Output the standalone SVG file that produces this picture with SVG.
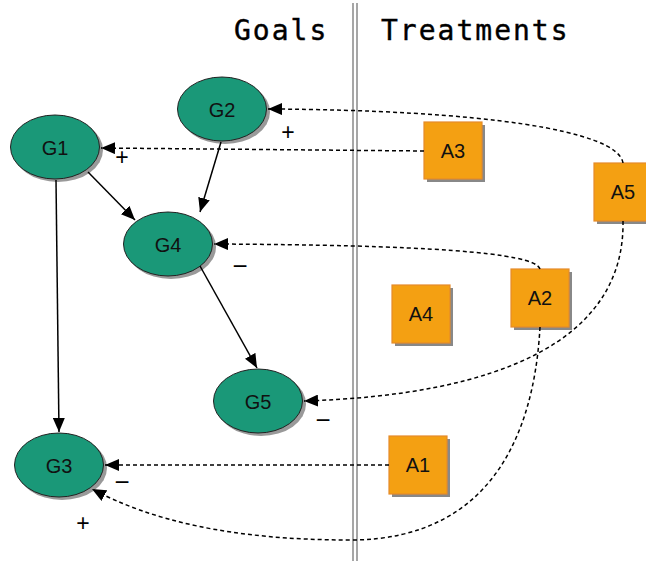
<svg xmlns="http://www.w3.org/2000/svg" width="646" height="563" viewBox="0 0 646 563">
<defs>
<marker id="arr" markerUnits="userSpaceOnUse" markerWidth="15" markerHeight="12" refX="14" refY="6" orient="auto">
<path d="M0,0 L14,6 L0,12 z" fill="#000"/>
</marker>
<style>
.goal ellipse.body{fill:#1a9878;stroke:#222;stroke-width:1}
.goal ellipse.sh{fill:#999;stroke:none}
.act rect.body{fill:#f4a012;stroke:#e58a2a;stroke-width:1.2}
.act rect.sh{fill:#888;stroke:none}
.lbl{font-family:"Liberation Sans",Arial,sans-serif;font-size:20px;fill:#111;text-anchor:middle;dominant-baseline:central}
.sign{font-family:"Liberation Sans",Arial,sans-serif;font-size:23px;fill:#000;text-anchor:middle;dominant-baseline:central}
.minus{font-size:26px}
.title{font-family:"DejaVu Sans Mono",monospace;font-size:28px;fill:#000;letter-spacing:2px;stroke:#000;stroke-width:0.4}
.solid{fill:none;stroke:#000;stroke-width:1.5;marker-end:url(#arr)}
.dash{fill:none;stroke:#000;stroke-width:1.5;stroke-dasharray:4 3;marker-end:url(#arr)}
.sep{stroke:#888;stroke-width:1.5}
</style>
</defs>
<rect width="646" height="563" fill="#fff"/>
<g id="separator">
<line class="sep" x1="353" y1="3" x2="353" y2="561"/>
<line class="sep" x1="357" y1="3" x2="357" y2="561"/>
</g>
<text class="title" x="234" y="40">Goals</text>
<text class="title" x="381" y="40">Treatments</text>

<g id="G1" class="goal"><ellipse class="sh" cx="58" cy="150" rx="45" ry="32"/><ellipse class="body" cx="55" cy="147" rx="44.5" ry="32"/><text class="lbl" x="55" y="148">G1</text></g>
<g id="G2" class="goal"><ellipse class="sh" cx="225" cy="112" rx="45" ry="32"/><ellipse class="body" cx="222" cy="109" rx="44.5" ry="32"/><text class="lbl" x="222" y="110">G2</text></g>
<g id="G4" class="goal"><ellipse class="sh" cx="171" cy="247" rx="45" ry="32"/><ellipse class="body" cx="168" cy="244" rx="44.5" ry="32"/><text class="lbl" x="168" y="245">G4</text></g>
<g id="G5" class="goal"><ellipse class="sh" cx="261" cy="404" rx="45" ry="32"/><ellipse class="body" cx="258" cy="401" rx="44.5" ry="32"/><text class="lbl" x="258" y="402">G5</text></g>
<g id="G3" class="goal"><ellipse class="sh" cx="62" cy="468" rx="45" ry="32"/><ellipse class="body" cx="59" cy="465" rx="44.5" ry="32"/><text class="lbl" x="59" y="466">G3</text></g>

<g id="A3" class="act"><rect class="sh" x="427" y="125" width="58" height="57"/><rect class="body" x="424" y="122" width="58" height="57"/><text class="lbl" x="453" y="151">A3</text></g>
<g id="A5" class="act"><rect class="sh" x="597" y="166" width="58" height="58"/><rect class="body" x="594" y="163" width="58" height="58"/><text class="lbl" x="623" y="192">A5</text></g>
<g id="A2" class="act"><rect class="sh" x="514" y="272" width="58" height="58"/><rect class="body" x="511" y="269" width="58" height="58"/><text class="lbl" x="540" y="298">A2</text></g>
<g id="A4" class="act"><rect class="sh" x="395" y="288" width="58" height="58"/><rect class="body" x="392" y="285" width="58" height="58"/><text class="lbl" x="421" y="314">A4</text></g>
<g id="A1" class="act"><rect class="sh" x="392" y="439" width="58" height="58"/><rect class="body" x="389" y="436" width="58" height="58"/><text class="lbl" x="418" y="465">A1</text></g>

<g id="connectors">
<path class="solid" d="M88,172 L135,220"/>
<path class="solid" d="M221,142 L200,212"/>
<path class="solid" d="M56,180 L59,432"/>
<path class="solid" d="M200,266 L257,368"/>
<path class="dash" d="M424,151 L101,148"/>
<path class="dash" d="M623,163 C618,130 480,110 268,109"/>
<path class="dash" d="M540,269 C535,252 420,245 214,244"/>
<path class="dash" d="M540,327 C535,420 500,540 350,540 C230,540 150,520 92,489"/>
<path class="dash" d="M623,221 C625,340 500,395 304,401"/>
<path class="dash" d="M389,465 L105,465"/>
</g>
<g id="labels">
<text class="sign" x="288" y="132">+</text>
<text class="sign" x="122" y="157">+</text>
<text class="sign minus" x="240" y="266">−</text>
<text class="sign minus" x="323" y="420">−</text>
<text class="sign minus" x="122" y="482">−</text>
<text class="sign" x="83" y="523">+</text>
</g>
</svg>
